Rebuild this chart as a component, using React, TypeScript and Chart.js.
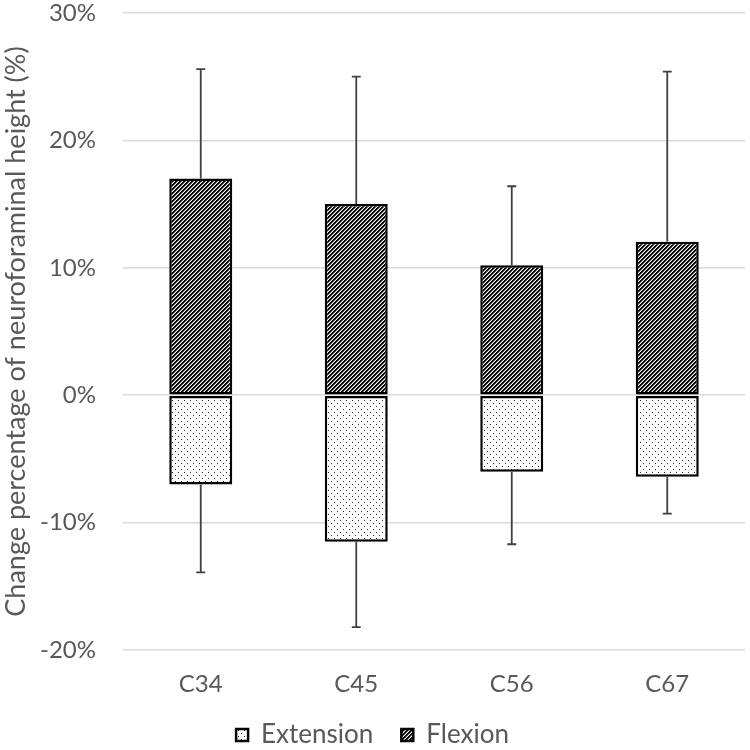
import React, { useEffect, useRef } from "react";
import { Chart, registerables } from "chart.js";

Chart.register(...registerables);

const categories = ["C34", "C45", "C56", "C67"];
const extensionValues = [-7.0, -11.5, -6.0, -6.4];
const extensionErrorEnds = [-13.9, -18.2, -11.7, -9.3];
const flexionValues = [17.0, 15.0, 10.2, 12.05];
const flexionErrorEnds = [25.6, 25.0, 16.4, 25.4];
const yMin = -20;
const yMax = 30;
const yStep = 10;

const FONT = "Lato, 'Open Sans', sans-serif";
const TEXT = "#595959";

function makeHatch(): CanvasPattern | string {
  const c = document.createElement("canvas");
  c.width = 4;
  c.height = 4;
  const ctx = c.getContext("2d");
  if (!ctx) return "#000";
  const img = ctx.createImageData(4, 4);
  for (let y = 0; y < 4; y++) {
    for (let x = 0; x < 4; x++) {
      const k = (x + y) % 4;
      const v = k === 0 || k === 1 ? 0 : k === 2 ? 120 : 255;
      const i = (y * 4 + x) * 4;
      img.data[i] = v;
      img.data[i + 1] = v;
      img.data[i + 2] = v;
      img.data[i + 3] = 255;
    }
  }
  ctx.putImageData(img, 0, 0);
  return ctx.createPattern(c, "repeat") || "#000";
}

function makeDots(): CanvasPattern | string {
  const c = document.createElement("canvas");
  c.width = 6;
  c.height = 6;
  const ctx = c.getContext("2d");
  if (!ctx) return "#eee";
  ctx.fillStyle = "#ffffff";
  ctx.fillRect(0, 0, 6, 6);
  ctx.fillStyle = "#2a2a2a";
  ctx.fillRect(1, 1, 1, 1);
  ctx.fillRect(4, 4, 1, 1);
  return ctx.createPattern(c, "repeat") || "#eee";
}

const errorBarPlugin = {
  id: "errorBars",
  afterDatasetsDraw(chart: any) {
    const ctx = chart.ctx;
    const yScale = chart.scales.y;
    const ends = [extensionErrorEnds, flexionErrorEnds];
    ctx.save();
    ctx.strokeStyle = "#404040";
    ctx.lineWidth = 1.8;
    chart.data.datasets.forEach((_ds: any, di: number) => {
      const meta = chart.getDatasetMeta(di);
      meta.data.forEach((el: any, i: number) => {
        const x = el.x;
        const y0 = el.y;
        const y1 = yScale.getPixelForValue(ends[di][i]);
        ctx.beginPath();
        ctx.moveTo(x, y0);
        ctx.lineTo(x, y1);
        ctx.moveTo(x - 4.5, y1);
        ctx.lineTo(x + 4.5, y1);
        ctx.stroke();
      });
    });
    ctx.restore();
  },
};

export default function App() {
  const ref = useRef<HTMLCanvasElement>(null);
  useEffect(() => {
    if (!ref.current) return;
    const chart = new Chart(ref.current, {
      type: "bar",
      data: {
        labels: categories,
        datasets: [
          {
            label: "Extension",
            data: extensionValues,
            backgroundColor: makeDots() as any,
            borderColor: "#000",
            borderWidth: 2.5,
            borderSkipped: false,
          },
          {
            label: "Flexion",
            data: flexionValues,
            backgroundColor: makeHatch() as any,
            borderColor: "#000",
            borderWidth: 2.5,
            borderSkipped: false,
          },
        ],
      },
      options: {
        responsive: false,
        animation: false,
        layout: { padding: { top: 13, right: 5, left: 0, bottom: -8 } },
        datasets: {
          bar: { barPercentage: 1, categoryPercentage: 0.405 },
        },
        plugins: {
          tooltip: { enabled: false },
          legend: {
            position: "bottom",
            labels: {
              boxWidth: 12,
              boxHeight: 12,
              padding: 28,
              color: TEXT,
              font: { family: FONT, size: 26 },
            },
          },
        },
        scales: {
          x: {
            stacked: true,
            grid: { display: false, drawTicks: false },
            border: { display: false },
            ticks: { color: TEXT, font: { family: FONT, size: 24 }, padding: 20 },
            afterFit(scale: any) {
              scale.height = 44;
            },
          },
          y: {
            stacked: true,
            min: yMin,
            max: yMax,
            grid: { color: "#d9d9d9", lineWidth: 1.5, drawTicks: false },
            border: { display: false },
            ticks: {
              stepSize: yStep,
              color: TEXT,
              padding: 27,
              font: { family: FONT, size: 24 },
              callback: (v: any) => `${v}%`,
            },
            title: {
              display: true,
              text: "Change percentage of neuroforaminal height (%)",
              color: TEXT,
              font: { family: FONT, size: 27 },
              padding: { top: 0, bottom: 0 },
            },
            afterFit(scale: any) {
              scale.width = 123;
              scale.paddingTop = 0;
              scale.paddingBottom = 0;
            },
          },
        },
      },
      plugins: [errorBarPlugin],
    });
    return () => chart.destroy();
  }, []);
  return (
    <div style={{ position: "absolute", left: 0, top: 0, width: 750, height: 750, background: "#fff" }}>
      <canvas ref={ref} width={750} height={750} />
    </div>
  );
}
